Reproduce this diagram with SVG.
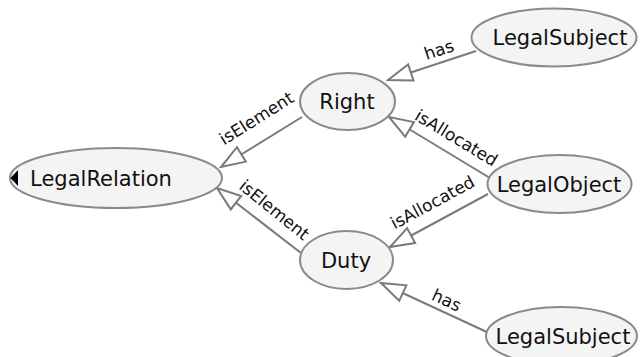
<svg xmlns="http://www.w3.org/2000/svg" width="641" height="357" viewBox="0 0 641 357">
<style>
.node ellipse{fill:#f4f4f4;stroke:#8a8a8a;stroke-width:2}
.node text{font-family:"DejaVu Sans",sans-serif;font-size:21px;fill:#111;text-anchor:middle}
.edge line{stroke:#7a7a7a;stroke-width:2;marker-end:url(#tri)}
.lbl{font-family:"DejaVu Sans",sans-serif;font-size:17px;fill:#111;text-anchor:middle}
</style>
<defs>
<marker id="tri" viewBox="-2 -2 28 21" refX="24" refY="8.5" markerWidth="28" markerHeight="21" markerUnits="userSpaceOnUse" orient="auto">
<path d="M0,0 L24,8.5 L0,17 Z" fill="#fff" stroke="#7a7a7a" stroke-width="2" stroke-linejoin="miter"/>
</marker>
</defs>
<rect width="641" height="357" fill="#fff"/>
<g id="connectors" class="edge">
<line x1="476" y1="51" x2="388" y2="80"/>
<line x1="490" y1="178" x2="389" y2="117"/>
<line x1="488" y1="194" x2="390" y2="247"/>
<line x1="489" y1="333" x2="381" y2="283"/>
<line x1="302" y1="117" x2="221" y2="167"/>
<line x1="301" y1="253" x2="217" y2="188"/>
<text class="lbl" transform="translate(443,62) rotate(-18.2)" y="-7">has</text>
<text class="lbl" transform="translate(447.6,152.4) rotate(31.1)" y="-11">isAllocated</text>
<text class="lbl" transform="translate(441.5,219) rotate(-28.4)" y="-13">isAllocated</text>
<text class="lbl" transform="translate(441.7,311) rotate(24.8)" y="-6">has</text>
<text class="lbl" transform="translate(268.5,137.7) rotate(-32)" y="-17">isElement</text>
<text class="lbl" transform="translate(262.4,224.6) rotate(38.9)" y="-13">isElement</text>
</g>
<g id="LegalRelation" class="node">
<ellipse cx="116" cy="178" rx="106" ry="30"/>
<polygon points="10.5,178 18,170 18,186" fill="#000"/>
<text x="101" y="186">LegalRelation</text>
</g>
<g id="Right" class="node">
<ellipse cx="347.5" cy="101.5" rx="47.5" ry="28.5"/>
<text x="347" y="109">Right</text>
</g>
<g id="Duty" class="node">
<ellipse cx="346.5" cy="260" rx="46.5" ry="29"/>
<text x="346" y="267.5">Duty</text>
</g>
<g id="LegalSubject1" class="node">
<ellipse cx="554" cy="37.5" rx="82.5" ry="29"/>
<text x="560" y="45">LegalSubject</text>
</g>
<g id="LegalObject" class="node">
<ellipse cx="559.5" cy="184" rx="72" ry="29"/>
<text x="559" y="191.5">LegalObject</text>
</g>
<g id="LegalSubject2" class="node">
<ellipse cx="561.5" cy="336" rx="75.5" ry="29"/>
<text x="563" y="343.5">LegalSubject</text>
</g>
</svg>
